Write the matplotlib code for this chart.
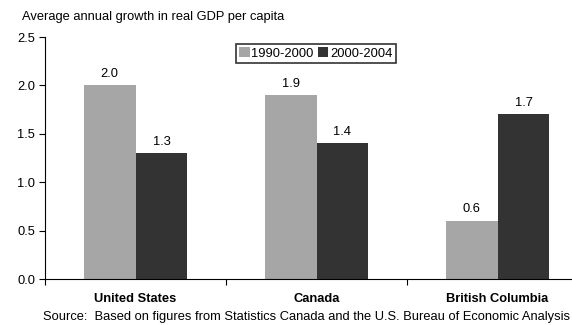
import matplotlib.pyplot as plt
import numpy as np

plt.rcParams['font.family'] = ['Liberation Sans', 'DejaVu Sans']

regions = ['United States', 'Canada', 'British Columbia']
growth_1990_2000 = [2.0, 1.9, 0.6]
growth_2000_2004 = [1.3, 1.4, 1.7]
series_labels = ['1990-2000', '2000-2004']
yticks = [0.0, 0.5, 1.0, 1.5, 2.0, 2.5]

light = '#a6a6a6'
dark = '#333333'
fontsize = 9.3

fig = plt.figure(figsize=(5.72, 3.25), dpi=100)
ax = fig.add_axes([45 / 572, 46 / 325, 543 / 572, 242 / 325])

centers = np.arange(len(regions)) + 0.5
width = 0.287
b1 = ax.bar(centers - width / 2, growth_1990_2000, width, color=light, label=series_labels[0])
b2 = ax.bar(centers + width / 2, growth_2000_2004, width, color=dark, label=series_labels[1])

for bars in (b1, b2):
    for rect in bars:
        h = rect.get_height()
        ax.annotate('{:.1f}'.format(h), (rect.get_x() + rect.get_width() / 2, h),
                    xytext=(0, 4), textcoords='offset points', ha='center', va='bottom',
                    fontsize=fontsize)

ax.set_xlim(0, len(regions))
ax.set_ylim(0, 2.5)
ax.set_yticks(yticks)
ax.set_yticklabels(['{:.1f}'.format(v) for v in yticks], fontsize=fontsize)
ax.set_xticks(np.arange(len(regions) + 1))
ax.set_xticklabels([])
ax.set_xticks(centers, minor=True)
ax.set_xticklabels(regions, minor=True, fontsize=fontsize, fontweight='bold')
ax.tick_params(axis='x', which='minor', length=0, pad=10)
ax.tick_params(axis='x', which='major', length=4, direction='out')
ax.tick_params(axis='y', length=4, direction='out', pad=3)
ax.spines['top'].set_visible(False)
ax.spines['right'].set_visible(False)
ax.spines['left'].set_clip_on(False)

leg = ax.legend(loc='upper left', bbox_to_anchor=(191 / 543, 0.971), ncol=2, fontsize=fontsize,
                frameon=True, fancybox=False, edgecolor='black', handlelength=0.8,
                handleheight=0.8, handletextpad=0.15, columnspacing=0.3, borderpad=0.25,
                borderaxespad=0)
leg.get_frame().set_linewidth(1.2)

fig.text(22 / 572, 1 - 17 / 325, 'Average annual growth in real GDP per capita',
         fontsize=fontsize, va='center', ha='left')
fig.text(43 / 572, 1 - 317 / 325,
         'Source:  Based on figures from Statistics Canada and the U.S. Bureau of Economic Analysis',
         fontsize=fontsize, va='center', ha='left')

plt.savefig('out.png', dpi=100)
